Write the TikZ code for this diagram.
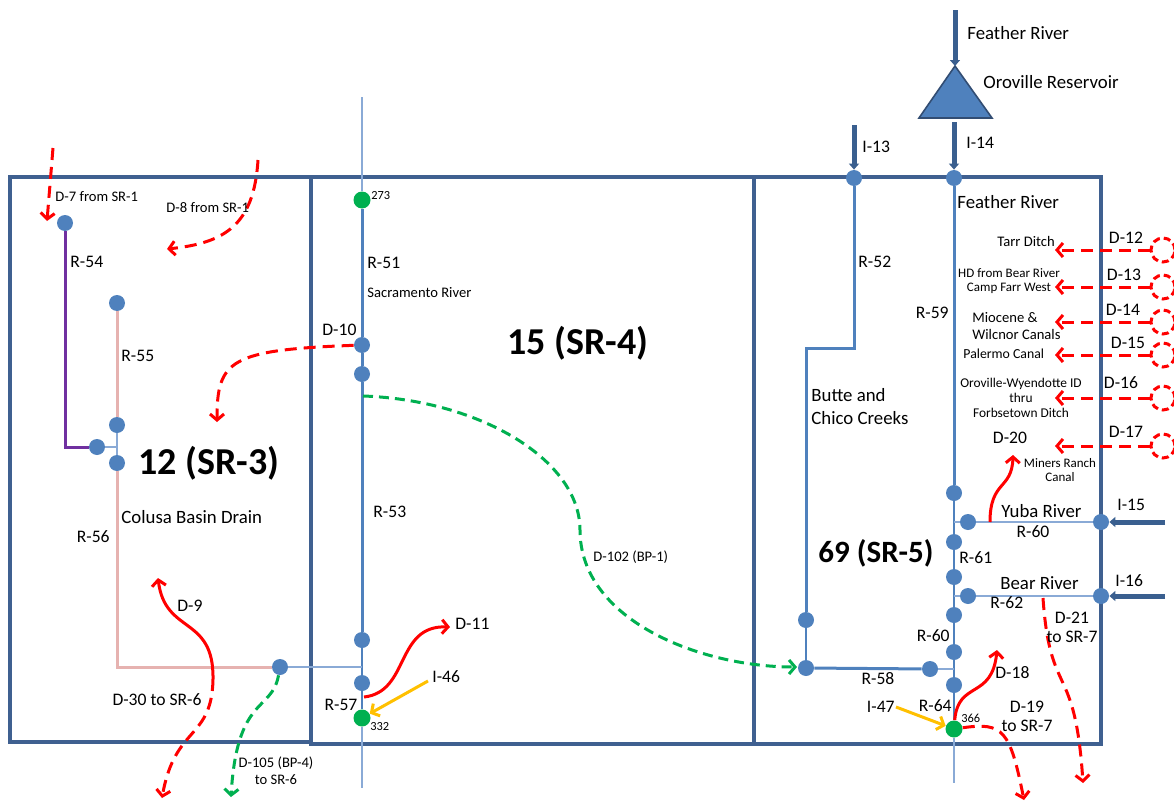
\documentclass[tikz,border=0pt]{standalone}
\usepackage{fontspec}
\setmainfont{Carlito}
\usepackage{xcolor}
\usetikzlibrary{arrows.meta}
\definecolor{boxblue}{HTML}{3F6090}
\definecolor{riverblue}{HTML}{4F81BD}
\definecolor{paleblue}{HTML}{8AAAD6}
\definecolor{gagegreen}{HTML}{00B050}
\definecolor{drainpink}{HTML}{E6B2B0}
\definecolor{ridgepurple}{HTML}{7030A0}
\definecolor{inorange}{HTML}{FFC000}
\definecolor{inflowblue}{HTML}{3A5F8F}
\tikzset{
  srbox/.style={draw=boxblue,line width=1.6pt},
  river/.style={draw=riverblue,line width=1.5pt},
  midriver/.style={draw=riverblue,line width=1pt},
  thinriver/.style={draw=paleblue,line width=0.75pt},
  jn/.style={circle,fill=riverblue,inner sep=0pt,minimum size=8pt},
  gjn/.style={circle,fill=gagegreen,inner sep=0pt,minimum size=8.5pt},
  inflow/.style={draw=inflowblue,line width=2.5pt,-{Triangle[length=3pt,width=5pt]}},
  divdash/.style={draw=red,line width=1.5pt,dash pattern=on 6pt off 3.5pt,-{Straight Barb[length=3pt,width=7pt]}},
  divsolid/.style={draw=red,line width=1.5pt,-{Straight Barb[length=3pt,width=7pt]}},
  bpdash/.style={draw=gagegreen,line width=1.5pt,dash pattern=on 5pt off 3pt,-{Straight Barb[length=3pt,width=7pt]}},
  feed/.style={draw=inorange,line width=1.5pt,-{Straight Barb[length=3pt,width=7pt]}},
  srcirc/.style={circle,draw=red,line width=1.5pt,dash pattern=on 3.5pt off 2pt,inner sep=0pt,minimum size=12pt},
  lbl/.style={inner sep=0pt,font=\fontsize{8.8}{9.5}\selectfont},
  namelbl/.style={inner sep=0pt,font=\fontsize{9.4}{11.5}\selectfont},
  smlbl/.style={inner sep=0pt,font=\fontsize{7.3}{8.5}\selectfont},
  xslbl/.style={inner sep=0pt,font=\fontsize{6.5}{7.2}\selectfont},
  tinylbl/.style={inner sep=0pt,font=\fontsize{6.2}{7}\selectfont},
  biglbl/.style={inner sep=0pt,font=\fontsize{19}{21}\selectfont\bfseries},
}

\begin{document}
\begin{tikzpicture}[x=0.5pt,y=-0.5pt]
\useasboundingbox (0,0) rectangle (1174,803);
\draw[srbox] (10,177) rectangle (311,742);
\draw[srbox] (311,177) rectangle (754,744);
\draw[srbox] (754,177) rectangle (1101,744);

% SR-3
\node[jn] (d7n) at (65,223) {};
\node[jn] (r55top) at (117,303) {};
\node[jn] (r55bot) at (117,425) {};
\node[jn] (r54end) at (97,447) {};
\node[jn] (r56top) at (117,463) {};
\node[jn] (s3out) at (280,667) {};
\coordinate (jct3) at (117,447);
\draw[ridgepurple,line width=1.5pt] (d7n) |- (r54end);
\draw[drainpink,line width=1.5pt] (r55top) -- (r55bot);
\draw[thinriver] (r55bot) -- (r56top);
\draw[thinriver] (r54end) -- (jct3);
\draw[drainpink,line width=1.5pt] (r56top) |- (s3out);

\coordinate (d7src) at (53,148);
\coordinate (d7tip) at (47,221);
\draw[divdash] (d7src) -- (d7tip);
\coordinate (d8src) at (258,160);
\coordinate (d8tip) at (167,249);
\draw[divdash] (d8src) .. controls (254,225) and (225,243) .. (d8tip);
\coordinate (d9src) at (213,679);
\coordinate (d9tip) at (158,578);
\draw[divsolid] (d9src) .. controls (214,615) and (165,635) .. (d9tip);
\coordinate (d30tip) at (162,798);
\draw[divdash] (d9src) .. controls (212,740) and (175,725) .. (d30tip);
\coordinate (d105tip) at (231,797);
\draw[bpdash] (s3out) .. controls (272,712) and (237,695) .. (d105tip);

\node[smlbl,anchor=west] (d7lbl) at (55,197) {D-7 from SR-1};
\node[smlbl,anchor=west] (d8lbl) at (166,208) {D-8 from SR-1};
\node[lbl,anchor=west] (r54lbl) at (70,262) {R-54};
\node[lbl,anchor=west] (r55lbl) at (121,356) {R-55};
\node[biglbl] (sr3lbl) at (209,463) {12 (SR-3)};
\node[namelbl,anchor=west] (colusa) at (121,517) {Colusa Basin Drain};
\node[lbl,anchor=east] (r56lbl) at (110,537) {R-56};
\node[lbl,anchor=west] (d9lbl) at (177,606) {D-9};
\node[lbl] (d30lbl) at (157,700) {D-30 to SR-6};
\node[smlbl,align=center] (d105lbl) at (276,771) {D-105 (BP-4)\\to SR-6};

% SR-4
\coordinate (sacTop) at (362,97);
\coordinate (sacBot) at (362,788);
\node[gjn] (n273) at (362,200) {};
\node[jn] (d10n) at (362,345) {};
\node[jn] (s4a) at (362,374) {};
\node[jn] (s4b) at (362,640) {};
\node[jn] (s4c) at (362,683) {};
\node[gjn] (n332) at (362,718) {};
\draw[thinriver] (sacTop) -- (n273);
\draw[river] (n273) -- (d10n) -- (s4a) -- (s4b);
\draw[midriver] (s4b) -- (s4c) -- (n332);
\draw[thinriver] (n332) -- (sacBot);
\draw[thinriver] (s3out) -- (s3out -| n332);

\coordinate (d10tip) at (217,422);
\draw[divdash] (d10n) .. controls (230,350) and (217,360) .. (d10tip);
\coordinate (bp1src) at (363,396);
\draw[bpdash] (bp1src) .. controls (480,400) and (580,460) .. (580,530)
  .. controls (580,620) and (700,667) .. (797,667);
\coordinate (d11src) at (364,697);
\coordinate (d11tip) at (450,627);
\draw[divsolid] (d11src) .. controls (410,692) and (395,625) .. (d11tip);
\coordinate (i46src) at (428,681);
\draw[feed] (i46src) -- (n332);

\node[tinylbl,anchor=west] (l273) at (371,196) {273};
\node[lbl,anchor=west] (r51lbl) at (367,263) {R-51};
\node[smlbl,anchor=west] (sacr) at (367,293) {Sacramento River};
\node[lbl,anchor=west] (d10lbl) at (322,330) {D-10};
\node[biglbl] (sr4lbl) at (578,343) {15 (SR-4)};
\node[lbl,anchor=west] (r53lbl) at (373,512) {R-53};
\node[smlbl,anchor=west] (d102lbl) at (593,557) {D-102 (BP-1)};
\node[lbl,anchor=west] (d11lbl) at (455,624) {D-11};
\node[lbl,anchor=west] (i46lbl) at (432,677) {I-46};
\node[lbl] (r57lbl) at (341,705) {R-57};
\node[tinylbl,anchor=west] (l332) at (370,727) {332};

% SR-5
\coordinate (featherSrc) at (955,10);
\coordinate (orovilleTop) at (955,66);
\coordinate (i14src) at (954,122);
\coordinate (i13src) at (854,125);
\draw[draw=boxblue!80!black,fill=riverblue,line width=0.8pt] (919,118) -- (orovilleTop) -- (992,118) -- cycle;
\draw[inflow] (featherSrc) -- (orovilleTop);
\node[jn] (i13n) at (854,178) {};
\node[jn] (i14n) at (954,178) {};
\draw[inflow] (i13src) -- (i13n.north);
\draw[inflow] (i14src) -- (i14n.north);

\coordinate (r52kink) at (806,348);
\node[jn] (bc1) at (806,620) {};
\node[jn] (r58w) at (806,668) {};
\node[jn] (r58e) at (930,669) {};
\draw[river] (i13n) |- (r52kink) -- (bc1);
\draw[midriver] (bc1) -- (r58w);
\draw[river] (r58w) -- (r58e);

\node[jn] (f1) at (954,493) {};
\node[jn] (f2) at (954,542) {};
\node[jn] (f3) at (954,577) {};
\node[jn] (f4) at (954,615) {};
\node[jn] (f5) at (954,652) {};
\node[jn] (f6) at (954,685) {};
\node[gjn] (n366) at (954,729) {};
\coordinate (featherBot) at (954,783);
\draw[river] (i14n) -- (f1);
\draw[midriver] (f1) -- (f2) -- (f3) -- (f4) -- (f5) -- (f6) -- (n366);
\draw[thinriver] (n366) -- (featherBot);
\draw[thinriver] (r58e) -- (r58e -| f6);

\node[jn] (yubaW) at (968,522) {};
\node[jn] (yubaE) at (1101,522) {};
\node[jn] (bearW) at (968,596) {};
\node[jn] (bearE) at (1101,596) {};
\draw[thinriver] (yubaW) -- (yubaE);
\draw[thinriver] (yubaW) -- (yubaW -| f1);
\draw[thinriver] (bearW) -- (bearE);
\draw[thinriver] (bearW) -- (bearW -| f1);
\coordinate (i15src) at (1165,522);
\coordinate (i16src) at (1165,596);
\draw[inflow] (i15src) -- (yubaE.east);
\draw[inflow] (i16src) -- (bearE.east);

\coordinate (d20src) at (990,522);
\coordinate (d20tip) at (1013,455);
\draw[divsolid] (d20src) .. controls (990,480) and (1012,490) .. (d20tip);
\coordinate (d18tip) at (997,650);
\draw[divsolid] (n366) .. controls (958,680) and (992,700) .. (d18tip);
\coordinate (d19tip) at (1024,800);
\draw[divdash] (n366) .. controls (1003,722) and (1010,730) .. (d19tip);
\coordinate (d21src) at (1043,598);
\coordinate (d21tip) at (1083,783);
\draw[divdash] (d21src) .. controls (1050,700) and (1075,660) .. (d21tip);
\coordinate (i47src) at (896,707);
\draw[feed] (i47src) -- (n366);

% diversions from outside
\node[srcirc] (c12) at (1163,250) {};
\node[srcirc] (c13) at (1163,287) {};
\node[srcirc] (c14) at (1163,322) {};
\node[srcirc] (c15) at (1163,355) {};
\node[srcirc] (c16) at (1163,398) {};
\node[srcirc] (c17) at (1163,446) {};
\coordinate (t12) at (1055,250);
\coordinate (t13) at (1055,287);
\coordinate (t14) at (1055,322);
\coordinate (t15) at (1055,355);
\coordinate (t16) at (1055,398);
\coordinate (t17) at (1055,446);
\draw[divdash] (c12) -- (t12);
\draw[divdash] (c13) -- (t13);
\draw[divdash] (c14) -- (t14);
\draw[divdash] (c15) -- (t15);
\draw[divdash] (c16) -- (t16);
\draw[divdash] (c17) -- (t17);
\node[lbl] (d12lbl) at (1126,238) {D-12};
\node[lbl] (d13lbl) at (1124,275) {D-13};
\node[lbl] (d14lbl) at (1123,310) {D-14};
\node[lbl] (d15lbl) at (1128,343) {D-15};
\node[lbl] (d16lbl) at (1121,383) {D-16};
\node[lbl] (d17lbl) at (1126,432) {D-17};

\node[smlbl,anchor=west] (tarr) at (997,241) {Tarr Ditch};
\node[xslbl,align=center] (hdbear) at (1009,281) {HD from Bear River\\Camp Farr West};
\node[smlbl,anchor=west,align=left,font=\fontsize{7.3}{8.5}\selectfont] (miocene) at (972,326) {Miocene \&\\Wilcnor Canals};
\node[xslbl,anchor=west,font=\fontsize{6.9}{7.5}\selectfont] (palermo) at (963,354) {Palermo Canal};
\node[xslbl,align=center,font=\fontsize{6.7}{7.6}\selectfont] (owid) at (1021,398) {Oroville-Wyendotte ID\\thru\\Forbsetown Ditch};

\node[namelbl,anchor=west] (featherTop) at (967,33) {Feather River};
\node[namelbl,anchor=west] (oroville) at (983,82) {Oroville Reservoir};
\node[lbl,anchor=west] (i13lbl) at (862,147) {I-13};
\node[lbl,anchor=west] (i14lbl) at (966,143) {I-14};
\node[namelbl,anchor=west] (featherIn) at (957,202) {Feather River};
\node[lbl,anchor=west] (r52lbl) at (858,262) {R-52};
\node[lbl,anchor=east] (r59lbl) at (949,313) {R-59};
\node[namelbl,anchor=west,align=left] (butte) at (811,407) {Butte and\\Chico Creeks};
\node[lbl] (d20lbl) at (1010,438) {D-20};
\node[xslbl,align=center] (miners) at (1060,470) {Miners Ranch\\Canal};
\node[namelbl,anchor=west] (yuba) at (1001,511) {Yuba River};
\node[lbl] (r60lbl) at (1033,532) {R-60};
\node[lbl,anchor=west] (i15lbl) at (1117,505) {I-15};
\node[biglbl,font=\fontsize{15.5}{17}\selectfont\bfseries] (sr5lbl) at (876,553) {69 (SR-5)};
\node[lbl,anchor=west] (r61lbl) at (959,558) {R-61};
\node[namelbl,anchor=west] (bear) at (1000,583) {Bear River};
\node[lbl,anchor=west] (r62lbl) at (990,603) {R-62};
\node[lbl,anchor=west] (i16lbl) at (1115,581) {I-16};
\node[lbl,align=center] (d21lbl) at (1072,627) {D-21\\to SR-7};
\node[lbl,anchor=east] (r60blbl) at (950,636) {R-60};
\node[lbl,anchor=west] (d18lbl) at (995,673) {D-18};
\node[lbl] (r58lbl) at (878,679) {R-58};
\node[lbl,anchor=east] (r64lbl) at (952,706) {R-64};
\node[lbl,anchor=east] (i47lbl) at (895,707) {I-47};
\node[tinylbl,anchor=west] (l366) at (961,718) {366};
\node[lbl,align=center] (d19lbl) at (1027,716) {D-19\\to SR-7};
\end{tikzpicture}
\end{document}
